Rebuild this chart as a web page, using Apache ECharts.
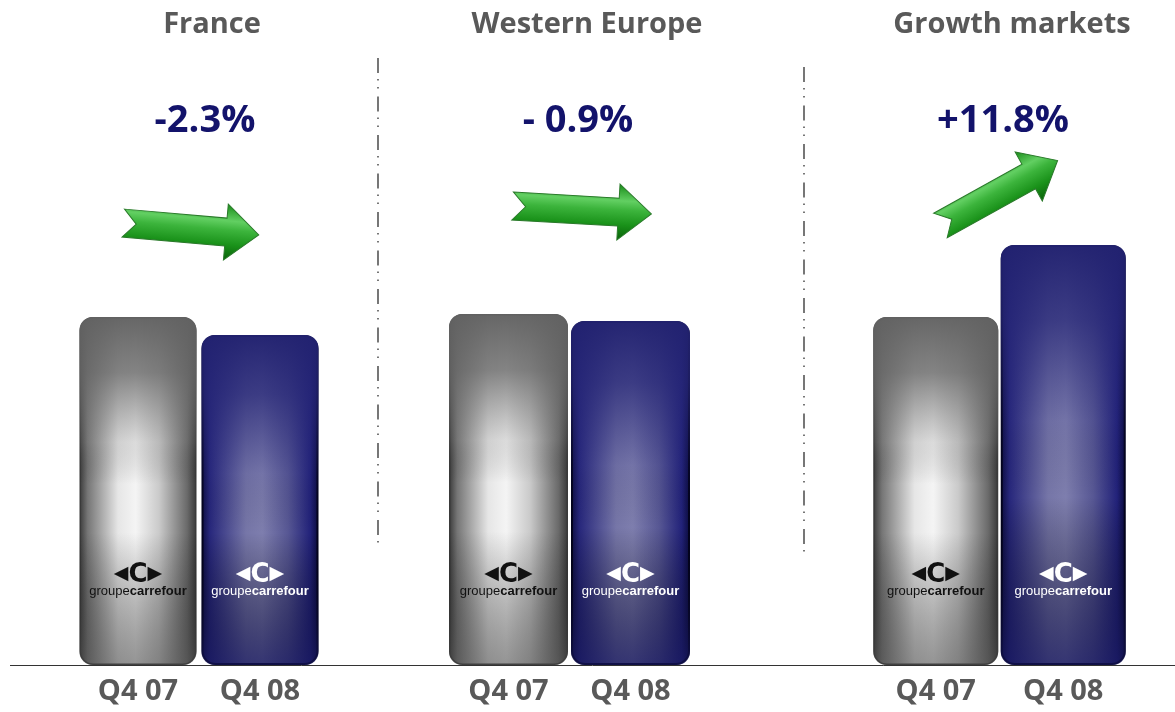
<!DOCTYPE html>
<html><head><meta charset="utf-8">
<script src="https://cdn.jsdelivr.net/npm/echarts@6/dist/echarts.min.js"></script>
<style>html,body{margin:0;padding:0;background:#fff}#c{width:1175px;height:712px}</style>
</head><body><div id="c"></div>
<script>
// ---- data ----
const regions = ['France', 'Western Europe', 'Growth markets'];
const periods = ['Q4 07', 'Q4 08'];
const q407 = [348, 351, 348];   // relative bar heights
const q408 = [330, 344, 420];
const changes = ['-2.3%', '- 0.9%', '+11.8%'];

// ---- layout (styles only) ----
const grids = [
  {left: 77, width: 244, barW: 117},
  {left: 447.5, width: 244, barW: 119},
  {left: 872, width: 255, barW: 125}
];
const titleX = [212, 587, 1012];
const pctX = [205, 578, 1003];

const chart = echarts.init(document.getElementById('c'), null, {renderer: 'canvas'});
const LG = (x0,y0,x1,y1,stops)=>new echarts.graphic.LinearGradient(x0,y0,x1,y1,stops.map(s=>({offset:s[0],color:s[1]})));

const grayBase = () => ({color: LG(0,0,1,0,[[0,'#3a3a3a'],[0.07,'#767676'],[0.33,'#e6e6e6'],[0.48,'#f4f4f4'],[0.68,'#cacaca'],[0.92,'#6a6a6a'],[1,'#383838']]), borderColor:'#3a3a3a', borderWidth:1.5, borderRadius:13});
const blueBase = () => ({color: LG(0,0,1,0,[[0,'#0c0c40'],[0.07,'#27277c'],[0.38,'#7676a8'],[0.52,'#7e7eae'],[0.74,'#575794'],[0.93,'#22227a'],[1,'#0a0a3c']]), borderColor:'#03031e', borderWidth:2, borderRadius:13});
const grayOver = () => ({color: LG(0,0,0,1,[[0,'rgba(98,98,98,0.97)'],[0.16,'rgba(104,104,104,0.8)'],[0.36,'rgba(120,120,120,0.2)'],[0.48,'rgba(0,0,0,0)'],[0.62,'rgba(0,0,0,0)'],[1,'rgba(70,70,70,0.55)']]), borderRadius:13});
const blueOver = () => ({color: LG(0,0,0,1,[[0,'rgba(34,34,112,0.97)'],[0.18,'rgba(38,38,118,0.75)'],[0.42,'rgba(40,40,120,0.12)'],[0.6,'rgba(0,0,0,0)'],[1,'rgba(22,22,90,0.7)']]), borderRadius:13});

const logoRich = (dark) => {
  const col = dark ? '#111' : '#fff';
  return {
    a: {fontFamily:'DejaVu Sans', fontSize:19, color:col, padding:[0,0,2,0]},
    b: {fontFamily:'DejaVu Sans', fontWeight:'bold', fontSize:26, color:col},
    g: {fontFamily:'Liberation Sans', fontSize:13, color:col, lineHeight:16},
    k: {fontFamily:'Liberation Sans', fontWeight:'bold', fontSize:13, color:col, lineHeight:16}
  };
};

const grid = [], xAxis = [], yAxis = [], series = [];
grids.forEach((g, i) => {
  grid.push({left: g.left, width: g.width, top: 65, bottom: 47});
  xAxis.push({type:'category', gridIndex:i, data: periods, axisLine:{show:false}, axisTick:{show:false},
    axisLabel:{margin:12, fontFamily:'Open Sans', fontWeight:'bold', fontSize:29, color:'#595959'}});
  yAxis.push({type:'value', gridIndex:i, min:0, max:600, show:false});
  const vals = [q407[i], q408[i]];
  series.push({type:'bar', xAxisIndex:i, yAxisIndex:i, barWidth:g.barW, barGap:'-100%', silent:true,
    data: vals.map((v, j) => ({value: v, itemStyle: j === 0 ? grayBase() : blueBase()}))});
  series.push({type:'bar', xAxisIndex:i, yAxisIndex:i, barWidth:g.barW, barGap:'-100%', silent:true,
    data: vals.map((v, j) => ({value: v, itemStyle: j === 0 ? grayOver() : blueOver(),
      label: {show:true, position:'insideBottom', distance:66, formatter:'{a|◀}{b|C}{a|▶}\n{g|groupe}{k|carrefour}', rich: logoRich(j===0), lineHeight:16}}))});
});

function arrowPts(L, t, h, hl, n) {
  const a = L/2;
  return [[-a,-t],[a-hl,-t],[a-hl,-h],[a,0],[a-hl,h],[a-hl,t],[-a,t],[-a+n,0]];
}
const arrowFill = () => LG(0,0,0,1,[[0,'#178a17'],[0.3,'#62cf62'],[0.46,'#3cb43c'],[0.72,'#1a921a'],[1,'#086008']]);
const arrows = [
  {x:191, y:229, L:136, rot:-5},
  {x:582, y:210, L:139, rot:-3.3},
  {x:999, y:193, L:134, rot:29}
];

const graphic = [];
regions.forEach((r, i) => {
  graphic.push({type:'text', x:titleX[i], y:25, style:{text:r, fill:'#595959', font:'bold 29px "Open Sans"', textAlign:'center', textVerticalAlign:'middle'}});
  graphic.push({type:'text', x:pctX[i], y:121, style:{text:changes[i], fill:'#13136b', font:'bold 38px "Open Sans"', textAlign:'center', textVerticalAlign:'middle'}});
});
arrows.forEach(a => {
  graphic.push({type:'polygon', x:a.x, y:a.y, rotation:a.rot*Math.PI/180, shape:{points: arrowPts(a.L, 14, 28, 33, 13)},
    style:{fill: arrowFill(), stroke:'#2a7a2a', lineWidth:1}});
});
graphic.push({type:'line', shape:{x1:378, y1:58, x2:378, y2:547}, style:{stroke:'#555', lineWidth:1.6, lineDash:[15,6,1.5,6.5,1.5,8]}});
graphic.push({type:'line', shape:{x1:804, y1:67, x2:804, y2:555}, style:{stroke:'#555', lineWidth:1.6, lineDash:[15,6,1.5,6.5,1.5,8]}});
graphic.push({type:'line', shape:{x1:10, y1:665.5, x2:1175, y2:665.5}, style:{stroke:'#333', lineWidth:1}, z:-1});

chart.setOption({animation:false, backgroundColor:'#fff', grid, xAxis, yAxis, series, graphic});
</script></body></html>
